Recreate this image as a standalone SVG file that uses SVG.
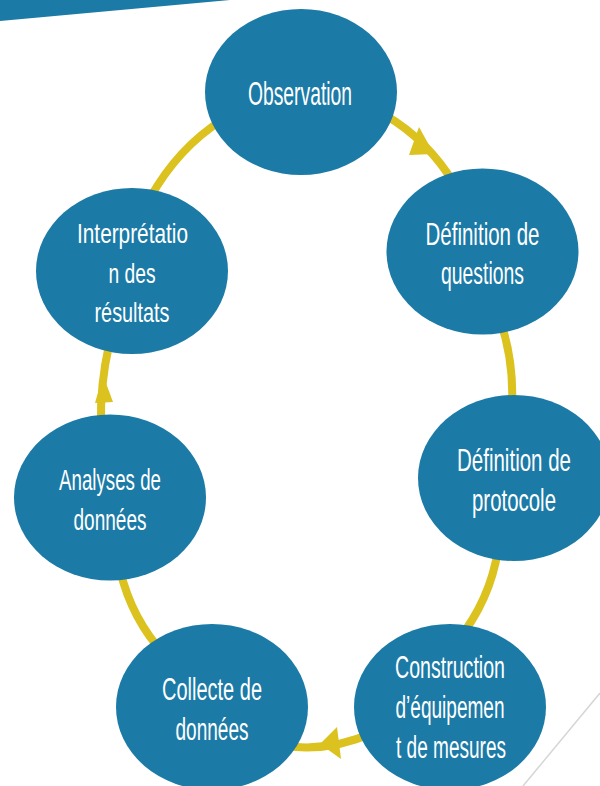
<svg xmlns="http://www.w3.org/2000/svg" xmlns:xlink="http://www.w3.org/1999/xlink" width="600" height="786" viewBox="0 0 600 786">
  <style>
    .node { fill: #1B7AA6; }
    .lbl { fill: #FFFFFF; font-family: "Liberation Sans Narrow", "Liberation Sans", Arial, sans-serif; text-anchor: middle; }
    .conn { fill: none; stroke: #DCC21E; stroke-width: 8; }
    .head { fill: #DCC21E; }
  </style>
  <rect width="600" height="786" fill="#FFFFFF"/>
  <g id="decor">
    <polygon points="0,0 230,0 0,21" fill="#1B7AA6"/>
    <line x1="600" y1="693" x2="523" y2="786" stroke="#D6D6D6" stroke-width="1.5"/>
  </g>
  <g id="connectors">
    <path class="conn" d="M 385 115 Q 428 140 455 185"/>
    <polygon class="head" points="419,127 409,155 434,154"/>
    <path class="conn" d="M 500 320 Q 514 360 512 405"/>
    <path class="conn" d="M 498 550 Q 490 600 458 640"/>
    <path class="conn" d="M 372 733 Q 330 752 285 746"/>
    <polygon class="head" points="337,727 341,759 320,744"/>
    <path class="conn" d="M 165 655 Q 132 620 120 570"/>
    <path class="conn" d="M 101 425 Q 100 385 109 345"/>
    <polygon class="head" points="103,375 95,403 113,402"/>
    <path class="conn" d="M 150 198 Q 178 148 222 120"/>
  </g>
  <g id="n1">
    <ellipse class="node" cx="301" cy="92" rx="96" ry="83"/>
    <text class="lbl" font-size="33" x="300" y="105" textLength="104" lengthAdjust="spacingAndGlyphs">Observation</text>
  </g>
  <g id="n2">
    <ellipse class="node" cx="482.5" cy="251.5" rx="96" ry="83"/>
    <text class="lbl" font-size="32" x="482.5" y="245" textLength="114" lengthAdjust="spacingAndGlyphs">Définition de</text>
    <text class="lbl" font-size="32" x="482.5" y="284" textLength="83" lengthAdjust="spacingAndGlyphs">questions</text>
  </g>
  <g id="n3">
    <ellipse class="node" cx="514" cy="478" rx="96" ry="83"/>
    <text class="lbl" font-size="32" x="514" y="471" textLength="114" lengthAdjust="spacingAndGlyphs">Définition de</text>
    <text class="lbl" font-size="32" x="514" y="511" textLength="84" lengthAdjust="spacingAndGlyphs">protocole</text>
  </g>
  <g id="n4">
    <ellipse class="node" cx="450" cy="707" rx="96" ry="83"/>
    <text class="lbl" font-size="31" x="450" y="678" textLength="110" lengthAdjust="spacingAndGlyphs">Construction</text>
    <text class="lbl" font-size="31" x="450" y="718" textLength="109" lengthAdjust="spacingAndGlyphs">d’équipemen</text>
    <text class="lbl" font-size="31" x="451" y="758" textLength="110" lengthAdjust="spacingAndGlyphs">t de mesures</text>
  </g>
  <g id="n5">
    <ellipse class="node" cx="212" cy="707" rx="96" ry="83"/>
    <text class="lbl" font-size="31" x="212" y="700" textLength="100" lengthAdjust="spacingAndGlyphs">Collecte de</text>
    <text class="lbl" font-size="31" x="212" y="740" textLength="73" lengthAdjust="spacingAndGlyphs">données</text>
  </g>
  <g id="n6">
    <ellipse class="node" cx="110" cy="497.5" rx="96" ry="83"/>
    <text class="lbl" font-size="30" x="110" y="490" textLength="102" lengthAdjust="spacingAndGlyphs">Analyses de</text>
    <text class="lbl" font-size="30" x="110" y="530" textLength="73" lengthAdjust="spacingAndGlyphs">données</text>
  </g>
  <g id="n7">
    <ellipse class="node" cx="132" cy="271" rx="96" ry="83"/>
    <text class="lbl" font-size="28" x="132.5" y="243" textLength="111" lengthAdjust="spacingAndGlyphs">Interprétatio</text>
    <text class="lbl" font-size="28" x="132" y="283" textLength="47" lengthAdjust="spacingAndGlyphs">n des</text>
    <text class="lbl" font-size="28" x="132" y="322" textLength="75" lengthAdjust="spacingAndGlyphs">résultats</text>
  </g>
</svg>
